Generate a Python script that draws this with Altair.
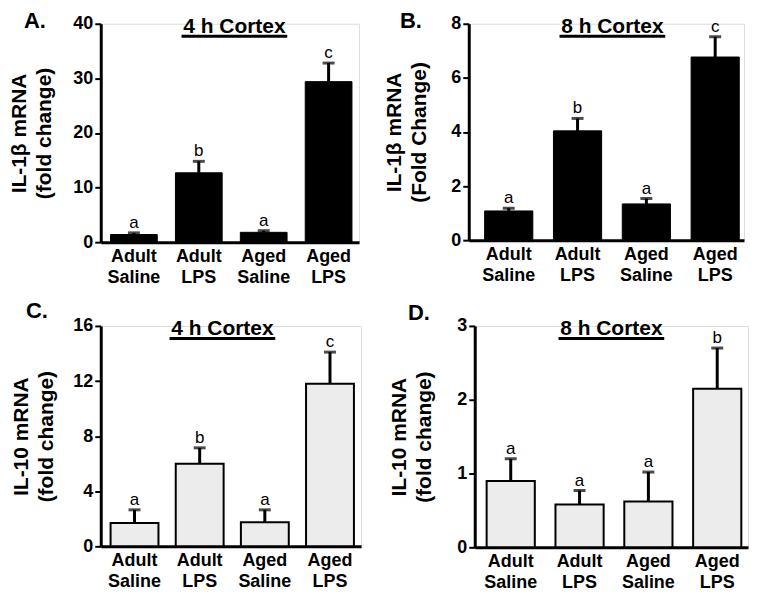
import altair as alt
import pandas as pd

FONT = "Liberation Sans, Arial, sans-serif"

groups = ["Adult Saline", "Adult LPS", "Aged Saline", "Aged LPS"]

# Panel A: IL-1b, 4 h
a_mean = [1.4, 12.7, 1.8, 29.4]
a_upper = [1.7, 14.8, 2.1, 32.8]
a_sig = ["a", "b", "a", "c"]

# Panel B: IL-1b, 8 h
b_mean = [1.08, 4.04, 1.34, 6.77]
b_upper = [1.18, 4.5, 1.54, 7.52]
b_sig = ["a", "b", "a", "c"]

# Panel C: IL-10, 4 h
c_mean = [1.7, 6.0, 1.75, 11.8]
c_upper = [2.65, 7.15, 2.65, 14.1]
c_sig = ["a", "b", "a", "c"]

# Panel D: IL-10, 8 h
d_mean = [0.9, 0.58, 0.62, 2.15]
d_upper = [1.2, 0.77, 1.02, 2.7]
d_sig = ["a", "a", "a", "b"]

a_ticks = [0, 10, 20, 30, 40]
b_ticks = [0, 1, 2, 3, 4, 5, 6, 7, 8]
c_ticks = [0, 2, 4, 6, 8, 10, 12, 14, 16]
d_ticks = [0, 0.5, 1, 1.5, 2, 2.5, 3]


def panel(mean, upper, sig, ticks, label_expr, ymax, ylab, title, letter,
          width, height, fill, stroke_w, pI, pO, align,
          title_x, title_cx, letter_x, letter_y):
    df = pd.DataFrame({"group": groups, "mean": mean, "upper": upper, "sig": sig})
    xenc = alt.X(
        "group:N", sort=groups,
        scale=alt.Scale(paddingInner=pI, paddingOuter=pO, align=align),
        axis=alt.Axis(title=None, labelAngle=0, ticks=False, domainWidth=3,
                      domainColor="black", labelExpr="split(datum.label, ' ')",
                      labelFontSize=18, labelFontWeight="bold", labelColor="black",
                      labelLineHeight=21, labelPadding=5, labelFont=FONT),
    )
    yscale = alt.Scale(domain=[0, ymax], nice=False, zero=True)
    yaxis = alt.Axis(values=ticks, format="~g", labelExpr=label_expr, tickSize=6,
                     tickWidth=2, tickColor="black", domainWidth=3, domainColor="black",
                     labelFontSize=18, labelFontWeight="bold", labelColor="black",
                     labelPadding=2, labelFont=FONT, grid=False,
                     title=ylab, titleFontSize=21, titleFontWeight="bold",
                     titleColor="black", titleFont=FONT, titleLineHeight=25,
                     titleX=title_x, titleY=height / 2, titleAngle=270,
                     titleAlign="center", titleBaseline="middle")
    base = alt.Chart(df)
    bars = base.mark_bar(fill=fill, stroke="black", strokeWidth=stroke_w).encode(
        x=xenc, y=alt.Y("mean:Q", scale=yscale, axis=yaxis)
    )
    err = base.mark_rule(color="black", strokeWidth=3).encode(
        x=alt.X("group:N", sort=groups), y="mean:Q", y2="upper:Q"
    )
    cap = base.mark_tick(color="black", thickness=3, size=12, orient="horizontal").encode(
        x=alt.X("group:N", sort=groups), y="upper:Q"
    )
    lbl = base.mark_text(fontSize=17, font=FONT, color="black", baseline="alphabetic",
                         dy=-5).encode(
        x=alt.X("group:N", sort=groups), y="upper:Q", text="sig:N"
    )
    tdf = pd.DataFrame({"t": [title]})
    ttext = alt.Chart(tdf).mark_text(fontSize=21, fontWeight="bold", font=FONT,
                                     color="black", align="center",
                                     baseline="alphabetic").encode(
        x=alt.value(title_cx), y=alt.value(9), text="t:N"
    )
    uline = alt.Chart(tdf).mark_rule(color="black", strokeWidth=3).encode(
        x=alt.value(title_cx - 53), x2=alt.value(title_cx + 53), y=alt.value(12.5)
    )
    ldf = pd.DataFrame({"l": [letter]})
    ltext = alt.Chart(ldf).mark_text(fontSize=22, fontWeight="bold", font=FONT,
                                     color="black", align="left",
                                     baseline="alphabetic").encode(
        x=alt.value(letter_x), y=alt.value(letter_y), text="l:N"
    )
    return alt.layer(bars, err, cap, lbl, ttext, uline, ltext).properties(
        width=width, height=height
    )


pA = panel(a_mean, a_upper, a_sig, a_ticks, "datum.label", 40,
           ["IL-1β mRNA", "(fold change)"], "4 h Cortex", "A.",
           259, 219, "black", 1, 0.28, 0.13, 0.58, -81, 134, -77, 4)
pB = panel(b_mean, b_upper, b_sig, b_ticks,
           "datum.value % 2 == 0 ? datum.label : ''", 8,
           ["IL-1β mRNA", "(Fold Change)"], "8 h Cortex", "B.",
           276, 217, "black", 1, 0.30, 0.15, 0.77, -74, 144, -69, 4)
pC = panel(c_mean, c_upper, c_sig, c_ticks,
           "datum.value % 4 == 0 ? datum.label : ''", 16,
           ["IL-10 mRNA", "(fold change)"], "4 h Cortex", "C.",
           261, 221, "#ececec", 2, 0.265, 0.13, 0.58, -79, 122, -75, -8)
pD = panel(d_mean, d_upper, d_sig, d_ticks,
           "datum.value % 1 == 0 ? datum.label : ''", 3,
           ["IL-10 mRNA", "(fold change)"], "8 h Cortex", "D.",
           274, 222, "#ececec", 2, 0.30, 0.135, 0.64, -75, 137, -67, -6)

row1 = alt.hconcat(pA, pB, spacing=23)
row2 = alt.hconcat(pC, pD, spacing=26)
chart = alt.vconcat(row1, row2, spacing=12).properties(
    padding={"left": 0, "top": 0, "right": 0, "bottom": 0}
).configure_view(stroke=None).configure(font=FONT, background="white")

chart.save("out.html", embed_options={"renderer": "svg", "actions": False})
